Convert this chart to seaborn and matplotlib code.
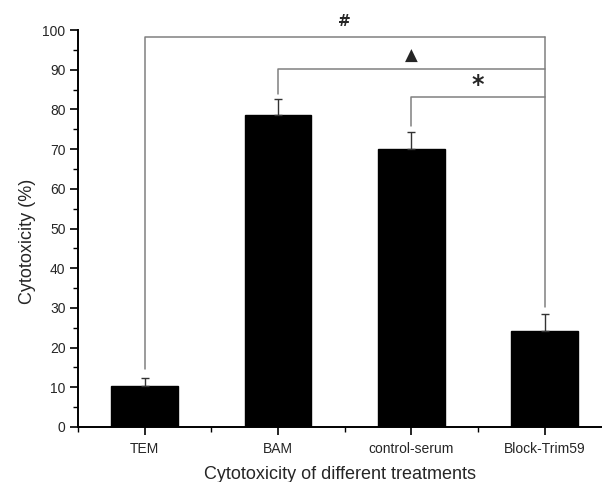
"""
细胞毒性柱状图（带显著性标记）
"""

import matplotlib
matplotlib.use("Agg")
import matplotlib.pyplot as plt
import seaborn as sns
import pandas as pd
from matplotlib.ticker import MultipleLocator, FixedLocator

# データ
treatments = ["TEM", "BAM", "control-serum", "Block-Trim59"]
cytotoxicity = [10.3, 78.7, 70.0, 24.2]
errors = [2.0, 4.0, 4.4, 4.2]

# 有意差ブラケット: (左カテゴリ, 右カテゴリ, 高さ, 左線の下端, 記号, 記号のy)
bracket_left = [0, 1, 2]
bracket_right = 3
bracket_height = [98.3, 90.1, 83.2]
bracket_left_bottom = [14.6, 83.8, 75.8]
bracket_right_bottom = 30.2
bracket_marks = ["#", "\u25B2", "*"]
bracket_mark_y = [100.3, 91.2, 83.0]
bracket_mark_size = [11, 12, 17]

sns.set_style("ticks")
plt.rcParams['font.family'] = ['Liberation Sans', 'DejaVu Sans']

df = pd.DataFrame({"treatment": treatments, "value": cytotoxicity})

fig = plt.figure(figsize=(6.02, 4.82), dpi=100)
ax = fig.add_axes([78 / 602, 55 / 482, 524 / 602, 397 / 482])

sns.barplot(data=df, x="treatment", y="value", color="black", width=0.5,
            errorbar=None, saturation=1, edgecolor="black", ax=ax)

# 上側のみのエラーバー
x = list(range(len(treatments)))
ax.errorbar(x, cytotoxicity, yerr=[[0] * len(errors), errors], fmt="none",
            ecolor="#333333", elinewidth=1.0, capsize=3, capthick=1.0, zorder=3)

# ブラケット
line_kw = dict(color="#808080", lw=1.1, zorder=2)
ax.plot([bracket_right, bracket_right], [bracket_right_bottom, max(bracket_height)], **line_kw)
for xl, h, lb, mark, my, ms in zip(bracket_left, bracket_height, bracket_left_bottom,
                                   bracket_marks, bracket_mark_y, bracket_mark_size):
    ax.plot([xl, xl, bracket_right], [lb, h, h], **line_kw)
    ax.text((xl + bracket_right) / 2, my, mark, ha="center", va="bottom",
            fontsize=ms, fontweight="bold", family=['DejaVu Sans'])

ax.set_xlim(-0.5, 3.43)
ax.set_ylim(0, 100)
ax.yaxis.set_major_locator(MultipleLocator(10))
ax.yaxis.set_minor_locator(MultipleLocator(5))
ax.xaxis.set_minor_locator(FixedLocator([-0.5, 0.5, 1.5, 2.5]))

ax.tick_params(axis="both", which="major", direction="out", length=6, width=1.2,
               color="black")
ax.tick_params(axis="both", which="minor", direction="out", length=3.5, width=1.0,
               color="black")
ax.tick_params(axis="y", labelsize=10, pad=3)
ax.tick_params(axis="x", labelsize=10, pad=5)

sns.despine(ax=ax)
ax.spines["left"].set_linewidth(1.4)
ax.spines["bottom"].set_linewidth(1.4)
ax.spines["left"].set_color("black")
ax.spines["bottom"].set_color("black")

ax.set_ylabel("Cytotoxicity (%)", fontsize=13, labelpad=8)
ax.yaxis.set_label_coords(-0.08, 0.468)
ax.set_xlabel("Cytotoxicity of different treatments", fontsize=13)
ax.xaxis.set_label_coords(0.5, -0.132)
ax.xaxis.label.set_va("baseline")

fig.savefig("out.png", dpi=100)
plt.close(fig)
